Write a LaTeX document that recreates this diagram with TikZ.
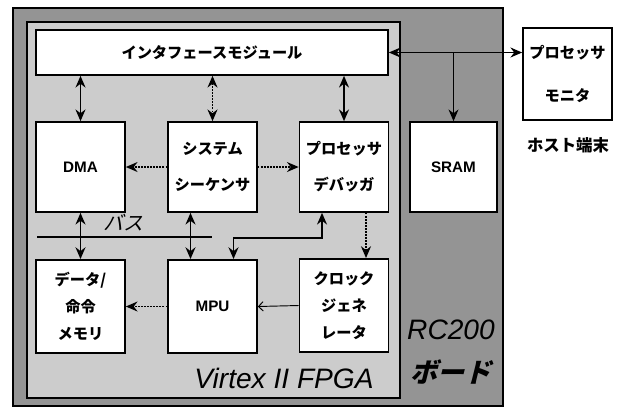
\documentclass[tikz,border=0pt]{standalone}
\usepackage{fontspec}
\setmainfont{Liberation Sans}
\newfontfamily\jp{Noto Sans CJK JP}
\newfontfamily\jpslant{Noto Sans CJK JP}[FakeSlant=0.25]
\usetikzlibrary{positioning, arrows.meta, calc}
\definecolor{boardgray}{gray}{0.58}
\definecolor{fpgagray}{gray}{0.8}

\tikzset{
  blk/.style={draw, line width=1.4pt, fill=white, minimum width=2.67cm,
    minimum height=2.7cm, align=center, inner sep=1pt,
    font=\jp\bfseries\fontsize{13}{31}\selectfont},
  lblk/.style={blk, font=\bfseries\fontsize{13}{16}\selectfont},
  tall/.style={minimum height=2.8cm, font=\jp\bfseries\fontsize{13}{23}\selectfont},
  link/.style={line width=1.4pt, {Stealth[length=10pt,width=8.5pt]}-{Stealth[length=10pt,width=8.5pt]}},
  one/.style={line width=1.4pt, -{Stealth[length=10pt,width=8.5pt]}},
  dots/.style={dash pattern=on 1.4pt off 1.2pt},
  big/.style={font=\itshape\fontsize{24}{24}\selectfont}
}

\begin{document}
\begin{tikzpicture}[x=0.03cm, y=-0.03cm]
  \useasboundingbox (0,0) rectangle (620,410);
  \filldraw[fill=boardgray, line width=1.6pt] (13,8) rectangle (503,406);
  \filldraw[fill=fpgagray, line width=1pt] (27,22) rectangle (400,398);

  \node[blk, minimum width=10.56cm, minimum height=1.35cm] (iface) at (212,52.5) {インタフェースモジュール};
  \node[lblk] (dma) at (80.5,167) {DMA};
  \node[blk] (sysseq) at (212.5,167) {システム\\シーケンサ};
  \node[blk] (dbg) at (344,167) {プロセッサ\\デバッガ};
  \node[lblk, minimum width=2.61cm] (sram) at (453.5,167) {SRAM};
  \node[blk, minimum height=2.76cm, font=\jp\bfseries\fontsize{13}{36}\selectfont] (host) at (567.5,74) {プロセッサ\\モニタ};
  \node[blk, tall] (mem) at (80.5,306.5) {データ/\\命令\\メモリ};
  \node[lblk, minimum height=2.8cm] (mpu) at (212.5,306.5) {MPU};
  \node[blk, tall] (clk) at (344,305.5) {クロック\\ジェネ\\レータ};

  \node[font=\jp\bfseries\fontsize{14}{14}\selectfont] (hostlbl) at (568,145) {ホスト端末};
  \node[font=\jpslant\fontsize{17}{17}\selectfont] (buslbl) at (123,223) {バス};
  \node[big] (fpgalbl) at (284,378) {Virtex II FPGA};
  \node[big] (rclbl) at (451,330) {RC200};
  \node[font=\jpslant\bfseries\fontsize{23}{23}\selectfont] (boardlbl) at (451,372) {ボード};

  \coordinate (busl) at (37,237);
  \coordinate (busr) at (212,237);
  \draw[line width=1.5pt] (busl) -- (busr);

  \draw[link] (iface.south -| dma) -- (dma.north);
  \draw[link, dots] (iface.south -| sysseq) -- (sysseq.north);
  \draw[link] (iface.south -| dbg) -- (dbg.north);
  \draw[one, dots] (sysseq.west) -- (dma.east);
  \draw[one, dots] (sysseq.east) -- (dbg.west);
  \draw[link] (dma.south) -- (mem.north);
  \draw[link] ($(sysseq.south)+(-22,0)$) -- ($(mpu.north)+(-22,0)$);
  \draw[link] ($(dbg.south)+(-22,0)$) -- ++(0,25) -| ($(mpu.north)+(21,0)$);
  \draw[one, dots] ($(dbg.south)+(22,0)$) -- ($(clk.north)+(22,0)$);
  \draw[line width=0.8pt, -{Straight Barb[length=4pt]}] (clk.west) -- (mpu.east);
  \draw[one, dots] (mpu.west) -- (mem.east);
  \draw[link] (iface.east) -- (iface.east -| host.west);
  \draw[line width=0.9pt, -{Stealth[length=10pt,width=8.5pt]}] (iface.east -| sram) -- (sram.north);
\end{tikzpicture}
\end{document}
